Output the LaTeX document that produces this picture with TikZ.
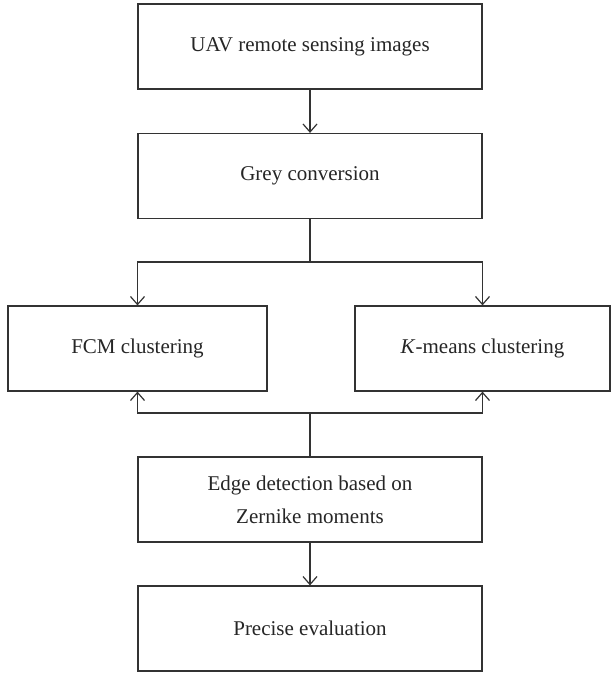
\documentclass[tikz,border=0pt]{standalone}
\usepackage{fontspec}
\setmainfont{Liberation Serif}
\usetikzlibrary{arrows.meta}

\begin{document}
\begin{tikzpicture}[x=0.5pt,y=-0.5pt,>={Straight Barb[length=4pt,width=7pt]},
    font=\fontsize{10.5}{16.5}\selectfont,
    stagebox/.style={draw=black!80, line width=0.6pt, text=black!85, align=center,
        minimum width=172pt, minimum height=42.5pt, inner sep=0pt},
    flowline/.style={draw=black!80, line width=0.6pt}]

    % --- Canvas ---
    \useasboundingbox[fill=white] (0,0) rectangle (611,673);

    % --- Stages ---
    \node[stagebox] (uav) at (310,46.5) {UAV remote sensing images};
    \node[stagebox] (grey) at (310,176) {Grey conversion};
    \node[stagebox, minimum width=129.5pt] (fcm) at (137.5,348.5) {FCM clustering};
    \node[stagebox, minimum width=127.5pt] (kmeans) at (482.5,348.5) {\textit{K}-means clustering};
    \node[stagebox] (edge) at (310,499.5) {Edge detection based on\\Zernike moments};
    \node[stagebox] (eval) at (310,628.5) {Precise evaluation};

    % --- Branch points ---
    \coordinate (split) at (310,262);
    \coordinate (merge) at (310,413);

    % --- Connectors ---
    \draw[flowline, ->] (uav) -- (grey);
    \draw[flowline] (grey) -- (split);
    \draw[flowline, ->] (split) -| (fcm);
    \draw[flowline, ->] (split) -| (kmeans);
    \draw[flowline] (edge) -- (merge);
    \draw[flowline, ->] (merge) -| (fcm);
    \draw[flowline, ->] (merge) -| (kmeans);
    \draw[flowline, ->] (edge) -- (eval);

\end{tikzpicture}
\end{document}
